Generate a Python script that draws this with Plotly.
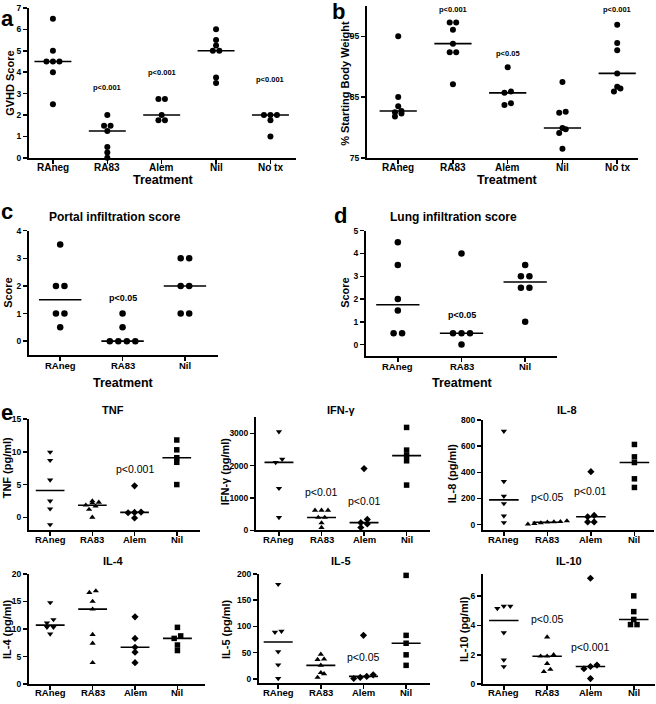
import numpy as np
import plotly.graph_objects as go

W, H = 656, 704
FONT = "Liberation Sans, Arial, Helvetica, sans-serif"

# ---------------- DATA ----------------
cats5 = ["RAneg", "RA83", "Alem", "Nil", "No tx"]
cats3 = ["RAneg", "RA83", "Nil"]
cats4 = ["RAneg", "RA83", "Alem", "Nil"]

gvhd_raneg = [6.5, 5, 4.5, 4.5, 4.5, 4, 2.5]
gvhd_ra83 = [2, 1.5, 1.5, 1.25, 0.5, 0.25, 0]
gvhd_alem = [2.75, 2.75, 2, 1.75, 1.75]
gvhd_nil = [6, 5.5, 5.25, 5, 5, 3.75, 3.5]
gvhd_notx = [2, 2, 2, 1.75, 1]

wt_raneg = [95, 85, 83.5, 82.7, 82.5, 82.3, 81.8]
wt_ra83 = [97.3, 97.3, 96.1, 93.8, 92.4, 92.4, 87.1]
wt_alem = [89.9, 85.9, 85.7, 84.0, 83.7]
wt_nil = [87.5, 82.6, 82.4, 79.9, 79.7, 79.1, 76.5]
wt_notx = [96.9, 93.9, 92.7, 88.9, 86.7, 86.4, 85.9]

portal_raneg = [3.5, 2, 2, 1, 1, 0.5]
portal_ra83 = [1, 0.5, 0, 0, 0, 0]
portal_nil = [3, 3, 2, 2, 1, 1]

lung_raneg = [4.5, 3.5, 2, 1.5, 0.5, 0.5]
lung_ra83 = [4, 0.5, 0.5, 0.5, 0]
lung_nil = [3.5, 3, 3, 2.5, 2.5, 1]

tnf_raneg = [9.95, 8.7, 5.7, 2.5, 1.3, -1.1]
tnf_ra83 = [2.5, 2.3, 2.2, 1.85, 1.7, 1.2, 0]
tnf_alem = [4.8, 0.8, 0.75, 0.7, -0.1]
tnf_nil = [11.8, 10.3, 9.1, 8.4, 5.0]

ifn_raneg = [3050, 2200, 2100, 1300, 400]
ifn_ra83 = [620, 620, 620, 400, 400, 230, 90]
ifn_alem = [1910, 340, 240, 200, 90]
ifn_nil = [3180, 2480, 2310, 2150, 1400]

il8_raneg = [715, 330, 217, 161, 66, 15]
il8_ra83 = [28, 22, 20, 18, 12, 8, 3]
il8_alem = [405, 70, 60, 20, 20]
il8_nil = [613, 518, 475, 350, 284]

il4_raneg = [14.8, 11.7, 11.1, 10.3, 10.3, 9.1]
il4_ra83 = [16.9, 16.6, 15.0, 13.6, 9.0, 7.4, 3.9]
il4_alem = [12.2, 8.3, 6.7, 5.8, 3.9]
il4_nil = [10.3, 8.75, 8.3, 7.1, 6.1]

il5_raneg = [180, 91, 89, 52, 27, 1]
il5_ra83 = [47, 38, 37, 26, 12, 10, 3]
il5_alem = [83, 8, 5, 3, 1]
il5_nil = [197, 83, 68, 46, 26]

il10_raneg = [5.3, 5.3, 5.15, 3.5, 1.65, 1.2]
il10_ra83 = [3.2, 2.0, 1.9, 1.9, 1.4, 1.0, 0.85]
il10_alem = [7.2, 1.3, 1.2, 1.05, 0.38]
il10_nil = [6.0, 4.93, 4.4, 4.05, 4.05]

# p-value labels: (category index, text)
p_gvhd = [(1, "p<0.001"), (2, "p<0.001"), (4, "p<0.001")]
p_wt = [(1, "p<0.001"), (2, "p<0.05"), (4, "p<0.001")]
p_portal = [(1, "p<0.05")]
p_lung = [(1, "p<0.05")]
p_tnf = [(2, "p<0.001")]
p_ifn = [(1, "p<0.01"), (2, "p<0.01")]
p_il8 = [(1, "p<0.05"), (2, "p<0.01")]
p_il4 = []
p_il5 = [(2, "p<0.05")]
p_il10 = [(1, "p<0.05"), (2, "p<0.001")]

# ---------------- LAYOUT CONFIG ----------------
circ = ["circle"] * 5
esym = ["triangle-down", "triangle-up", "diamond", "square"]

panels = [
    dict(groups=[gvhd_raneg, gvhd_ra83, gvhd_alem, gvhd_nil, gvhd_notx], cats=cats5,
         box=(29, 296, 3, 155), xr=(-0.44, 4.47), yr=(0, 7), yt=list(range(8)),
         sym=circ, ms=6, d=6.5, pv=p_gvhd, pvy=[84, 68, 76], pfs=7.5, pbold=True,
         xfs=10, yfs=8.5, xlo=10),
    dict(groups=[wt_raneg, wt_ra83, wt_alem, wt_nil, wt_notx], cats=cats5,
         box=(367, 638, 1, 155), xr=(-0.57, 4.38), yr=(75, 100), yt=[75, 85, 95],
         sym=circ, ms=6, d=6.5, pv=p_wt, pvy=[5, 49, 5], pfs=7.5, pbold=True,
         xfs=10, yfs=8.5, xlo=10),
    dict(groups=[portal_raneg, portal_ra83, portal_nil], cats=cats3,
         box=(29, 218, 229, 355), xr=(-0.5, 2.53), yr=(-0.5, 4), yt=[0, 1, 2, 3, 4],
         sym=circ, ms=6.5, d=8.5, pv=p_portal, pvy=[297], pfs=9, pbold=True,
         xfs=9.5, yfs=8.5, xlo=11),
    dict(groups=[lung_raneg, lung_ra83, lung_nil], cats=cats3,
         box=(366, 557, 229, 356), xr=(-0.5, 2.5), yr=(-0.5, 5), yt=[0, 1, 2, 3, 4, 5],
         sym=circ, ms=6.5, d=8.5, pv=p_lung, pvy=[314], pfs=9, pbold=True,
         xfs=9.5, yfs=8.5, xlo=11),
    dict(groups=[tnf_raneg, tnf_ra83, tnf_alem, tnf_nil], cats=cats4,
         box=(29, 200, 420, 533), xr=(-0.5, 3.55), yr=(-2, 15), yt=[0, 5, 10, 15],
         sym=esym, ms=5.5, d=6.5, pv=p_tnf, pvy=[471], pfs=10.5, pbold=False,
         xfs=9.5, yfs=8.5, xlo=9),
    dict(groups=[ifn_raneg, ifn_ra83, ifn_alem, ifn_nil], cats=cats4,
         box=(256, 430, 418, 533), xr=(-0.54, 3.55), yr=(0, 3500), yt=[0, 1000, 2000, 3000],
         sym=esym, ms=5.5, d=6.5, pv=p_ifn, pvy=[494, 503], pfs=10.5, pbold=False,
         xfs=9.5, yfs=8.5, xlo=9),
    dict(groups=[il8_raneg, il8_ra83, il8_alem, il8_nil], cats=cats4,
         box=(483, 654, 421, 533), xr=(-0.48, 3.45), yr=(-45, 800), yt=[0, 200, 400, 600, 800],
         sym=esym, ms=5.5, d=6.5, pv=p_il8, pvy=[499, 493], pfs=10.5, pbold=False,
         xfs=9.5, yfs=8.5, xlo=9),
    dict(groups=[il4_raneg, il4_ra83, il4_alem, il4_nil], cats=cats4,
         box=(29, 205, 577, 689), xr=(-0.5, 3.65), yr=(0, 20), yt=[0, 5, 10, 15, 20],
         sym=esym, ms=5.5, d=6.5, pv=p_il4, pvy=[], pfs=10.5, pbold=False,
         xfs=9.5, yfs=8.5, xlo=8),
    dict(groups=[il5_raneg, il5_ra83, il5_alem, il5_nil], cats=cats4,
         box=(259, 430, 577, 688), xr=(-0.45, 3.56), yr=(-8, 200), yt=[0, 50, 100, 150, 200],
         sym=esym, ms=5.5, d=6.5, pv=p_il5, pvy=[661], pfs=10.5, pbold=False,
         xfs=9.5, yfs=8.5, xlo=9),
    dict(groups=[il10_raneg, il10_ra83, il10_alem, il10_nil], cats=cats4,
         box=(483, 655, 577, 689), xr=(-0.48, 3.49), yr=(0, 7.5), yt=[0, 2, 4, 6],
         sym=esym, ms=5.5, d=6.5, pv=p_il10, pvy=[623, 651], pfs=10.5, pbold=False,
         xfs=9.5, yfs=8.5, xlo=8),
]

# text annotations in pixel coords: (text, x, y, size, bold, angle)
texts = [
    ("GVHD Score", 10, 80, 11, True, -90),
    ("Treatment", 163, 178, 12.5, True, 0),
    ("% Starting Body Weight", 345, 80, 11, True, -90),
    ("Treatment", 507, 178, 12.5, True, 0),
    ("Portal infiltration score", 115, 215, 12, True, 0),
    ("Score", 8, 292, 11, True, -90),
    ("Treatment", 123, 383, 12.5, True, 0),
    ("Lung infiltration score", 454, 215, 12, True, 0),
    ("Score", 345, 292, 11, True, -90),
    ("Treatment", 462, 383, 12.5, True, 0),
    ("TNF", 113, 411, 11, True, 0),
    ("IFN-γ", 341, 411, 11, True, 0),
    ("IL-8", 567, 411, 11, True, 0),
    ("IL-4", 113, 564, 11, True, 0),
    ("IL-5", 341, 564, 11, True, 0),
    ("IL-10", 569, 564, 11, True, 0),
    ("TNF (pg/ml)", 7, 470, 11, True, -90),
    ("IFN-γ (pg/ml)", 225, 473, 11, True, -90),
    ("IL-8 (pg/ml)", 452, 475, 11, True, -90),
    ("IL-4 (pg/ml)", 7, 633, 11, True, -90),
    ("IL-5 (pg/ml)", 226, 633, 11, True, -90),
    ("IL-10 (pg/ml)", 464, 633, 11, True, -90),
]
# panel letters: (text, x px, y px, yanchor)
letters = [("a", 0, 0, "top"), ("b", 331, 20, "bottom"), ("c", 0, 223, "bottom"),
           ("d", 333, 227, "bottom"), ("e", 0, 427, "bottom")]


def swarm(vals, px_y, px_x, d, thr):
    v = np.asarray(vals, float)
    order = np.argsort(v, kind="stable")
    offs = np.zeros(len(v))
    rows, cur = [], [order[0]]
    for i in order[1:]:
        if (v[i] - v[cur[0]]) * px_y < thr:
            cur.append(i)
        else:
            rows.append(cur)
            cur = [i]
    rows.append(cur)
    for r in rows:
        n = len(r)
        for k, i in enumerate(r):
            offs[i] = (k - (n - 1) / 2) * d / px_x
    return offs


fig = go.Figure()
layout = dict(width=W, height=H, margin=dict(l=0, r=0, t=0, b=0), autosize=False,
              paper_bgcolor="white", plot_bgcolor="white", showlegend=False,
              font=dict(family=FONT, color="black"))
annotations = []

for pi, p in enumerate(panels, start=1):
    xn = "x" if pi == 1 else f"x{pi}"
    yn = "y" if pi == 1 else f"y{pi}"
    xk = "xaxis" if pi == 1 else f"xaxis{pi}"
    yk = "yaxis" if pi == 1 else f"yaxis{pi}"
    x0, x1, yt, yb = p["box"]
    xr, yr = p["xr"], p["yr"]
    px_x = (x1 - x0) / (xr[1] - xr[0])
    px_y = (yb - yt) / (yr[1] - yr[0])
    layout[xk] = dict(domain=[x0 / W, x1 / W], range=list(xr), anchor=yn,
                      tickvals=list(range(len(p["cats"]))), showticklabels=False,
                      showline=True, linewidth=2, linecolor="black",
                      ticks="outside", ticklen=4, tickwidth=1.5, tickcolor="black",
                      showgrid=False, zeroline=False, fixedrange=True)
    layout[yk] = dict(domain=[1 - yb / H, 1 - yt / H], range=list(yr), anchor=xn,
                      tickvals=p["yt"], showline=True, linewidth=2, linecolor="black",
                      ticks="outside", ticklen=4, tickwidth=1.5, tickcolor="black",
                      showgrid=False, zeroline=False, fixedrange=True,
                      tickfont=dict(family=FONT, size=p["yfs"], color="black", weight="bold"))
    # category labels under the x axis
    for ci, c in enumerate(p["cats"]):
        annotations.append(dict(
            x=ci, y=1 - (yb + p["xlo"]) / H, xref=xn, yref="paper", text=c,
            showarrow=False, xanchor="center", yanchor="middle", borderpad=0,
            font=dict(family=FONT, size=p["xfs"], color="black", weight="bold")))
    for gi, vals in enumerate(p["groups"]):
        offs = swarm(vals, px_y, px_x, p["d"], 0.6 * p["d"])
        fig.add_trace(go.Scatter(
            x=gi + offs, y=vals, mode="markers", xaxis=xn, yaxis=yn, cliponaxis=False,
            marker=dict(symbol=p["sym"][gi], size=p["ms"], color="black", line=dict(width=0)),
            hoverinfo="skip"))
        med = float(np.median(vals))
        fig.add_trace(go.Scatter(
            x=[gi - 0.34, gi + 0.34], y=[med, med], mode="lines", xaxis=xn, yaxis=yn,
            line=dict(color="black", width=1.6), hoverinfo="skip", cliponaxis=False))
    for (ci, txt), py in zip(p["pv"], p["pvy"]):
        yval = yr[0] + (yb - py) / px_y
        annotations.append(dict(
            x=ci, y=yval, xref=xn, yref=yn, text=txt, showarrow=False,
            xanchor="center", yanchor="middle", borderpad=0,
            font=dict(family=FONT, size=p["pfs"], color="black",
                      weight="bold" if p["pbold"] else "normal")))

for txt, px, py, fs, bold, ang in texts:
    annotations.append(dict(
        x=px / W, y=1 - py / H, xref="paper", yref="paper", text=txt, showarrow=False,
        xanchor="center", yanchor="middle", textangle=ang, borderpad=0,
        font=dict(family=FONT, size=fs, color="black", weight="bold" if bold else "normal")))

for txt, px, py, ya in letters:
    annotations.append(dict(
        x=px / W, y=1 - py / H, xref="paper", yref="paper", text=txt, showarrow=False,
        xanchor="left", yanchor=ya, borderpad=0,
        font=dict(family=FONT, size=22, color="black", weight="bold")))

layout["annotations"] = annotations
fig.update_layout(**layout)
fig.write_html(
    "out.html",
    config={"displayModeBar": False, "staticPlot": True},
    post_script="document.body.style.margin='0px';document.body.style.padding='0px';"
                "document.documentElement.style.overflow='hidden';")
